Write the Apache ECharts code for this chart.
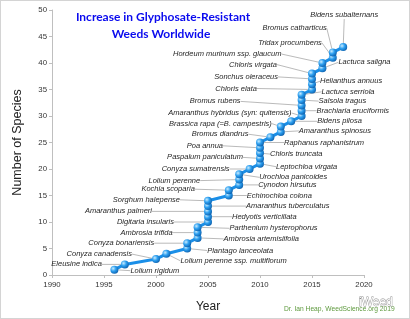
<!DOCTYPE html>
<html>
<head>
<meta charset="utf-8">
<script src="https://cdn.jsdelivr.net/npm/echarts@6/dist/echarts.min.js"></script>
<style>
html,body{margin:0;padding:0;background:#fff;}
#c{width:410px;height:319px;box-sizing:border-box;border:1px solid #d4d4d4;}
</style>
</head>
<body>
<div id="c"></div>
<script>
// ---- data ----
const species = [
  'Lolium rigidum','Eleusine indica','Conyza canadensis','Lolium perenne ssp. multiflorum',
  'Plantago lanceolata','Conyza bonariensis','Ambrosia artemisiifolia','Ambrosia trifida',
  'Parthenium hysterophorus','Digitaria insularis','Hedyotis verticillata','Amaranthus palmeri',
  'Amaranthus tuberculatus','Sorghum halepense','Echinochloa colona','Kochia scoparia',
  'Cynodon hirsutus','Lolium perenne','Urochloa panicoides','Conyza sumatrensis',
  'Leptochloa virgata','Paspalum paniculatum','Chloris truncata','Poa annua',
  'Raphanus raphanistrum','Bromus diandrus','Amaranthus spinosus','Brassica rapa (=B. campestris)',
  'Bidens pilosa','Amaranthus hybridus (syn: quitensis)','Brachiaria eruciformis','Bromus rubens',
  'Salsola tragus','Lactuca serriola','Chloris elata','Helianthus annuus',
  'Sonchus oleraceus','Chloris virgata','Lactuca saligna','Hordeum murinum ssp. glaucum',
  'Tridax procumbens','Bromus catharticus','Bidens subalternans'
];
const years = [1996,1997,2000,2001,2003,2003,2004,2004,2004,2005,2005,2005,2005,2005,
  2007,2007,2008,2008,2008,2009,2010,2010,2010,2010,2010,2011,2012,2012,2013,
  2014,2014,2014,2014,2014,2015,2015,2015,2015,2016,2016,2017,2017,2018];
const counts = [1,2,3,4,5,6,7,8,9,10,11,12,13,14,15,16,17,18,19,20,21,22,23,24,25,26,27,28,29,
  30,31,32,33,34,35,36,37,38,39,40,41,42,43];
const xTicks = [1990,1995,2000,2005,2010,2015,2020];
const yTicks = [0,5,10,15,20,25,30,35,40,45,50];

// ---- label placement (side, dx, dy relative to point, in px) ----
const labelPlace = [
  ['R',16,1],['L',-23,0],['L',-24,-5],['R',14,7],['R',20,2],['L',-33,0],['R',26,1],['L',-25,0],
  ['R',32,1],['L',-34,0],['R',24,0],['L',-56,0],['R',38,0],['L',-28,-1],['R',18,0],['L',-34,-1],
  ['R',19,0],['L',-39,1],['R',20,3],['L',-20,0],['R',16,3],['L',-17,-1],['R',10,1],['L',-37,-2],
  ['R',24,0],['L',-22,-3],['R',18,-1],['L',-9,-3],['R',26,0],['L',-10,-3],['R',15,0],['L',-61,-4],
  ['R',17,1],['R',20,-3],['L',-55,-1],['R',8,-3],['L',-34,-2],['L',-35,-9],['R',16,-6],['L',-41,-9],
  ['L',-11,-15],['L',-6,-24],['L',35,-32]
];

const seriesData = years.map((y, i) => [y, counts[i]]);

const chart = echarts.init(document.getElementById('c'), null, {renderer:'canvas'});
chart.setOption({
  animation:false,
  backgroundColor:'#fff',
  grid:{left:51, right:45, top:9, bottom:42, containLabel:false},
  xAxis:{
    type:'value', min:xTicks[0], max:xTicks[xTicks.length-1], interval:5,
    name:'Year', nameLocation:'middle', nameGap:26,
    nameTextStyle:{fontFamily:'Liberation Sans, Arial, sans-serif', fontSize:12, color:'#222'},
    axisLine:{show:true, lineStyle:{color:'#bfbfbf', width:1}},
    axisTick:{show:true, length:3, lineStyle:{color:'#bfbfbf'}},
    splitLine:{show:false},
    axisLabel:{fontFamily:'Liberation Sans, Arial, sans-serif', fontSize:7.8, color:'#333', margin:6,
      formatter: v => xTicks.includes(v) ? String(v) : ''}
  },
  yAxis:{
    type:'value', min:yTicks[0], max:yTicks[yTicks.length-1], interval:5,
    name:'Number of Species', nameLocation:'middle', nameGap:28, nameRotate:90,
    nameTextStyle:{fontFamily:'Liberation Sans, Arial, sans-serif', fontSize:12.5, color:'#222'},
    axisLine:{show:true, lineStyle:{color:'#bfbfbf', width:1}},
    axisTick:{show:true, length:3, lineStyle:{color:'#bfbfbf'}},
    splitLine:{show:false},
    axisLabel:{fontFamily:'Liberation Sans, Arial, sans-serif', fontSize:7.8, color:'#333', margin:5,
      formatter: v => yTicks.includes(v) ? String(v) : ''}
  },
  series:[{
    type:'line',
    data:seriesData,
    showAllSymbol:true,
    symbol:'circle',
    symbolSize:8,
    lineStyle:{color:'#1a8fe8', width:3},
    itemStyle:{
      color:{type:'radial', x:0.35, y:0.35, r:0.75, colorStops:[
        {offset:0, color:'#c9ecff'},{offset:0.45, color:'#2c9ff0'},{offset:1, color:'#0a5aa6'}]},
      borderWidth:0
    },
    label:{
      show:true,
      formatter: p => species[p.dataIndex],
      fontFamily:'Liberation Sans, Arial, sans-serif',
      fontStyle:'italic',
      fontSize:7.5,
      color:'#262626'
    },
    labelLine:{show:true, smooth:false, length2:0, lineStyle:{color:'#a8a8a8', width:0.8}},
    labelLayout: function(p){
      const L = labelPlace[p.dataIndex];
      const cx = p.rect.x + p.rect.width/2;
      const cy = p.rect.y + p.rect.height/2;
      return {x: cx + L[1], y: cy + L[2], align: L[0]==='L' ? 'right' : 'left',
        verticalAlign:'middle', hideOverlap:false};
    },
    emphasis:{disabled:true},
    z:3
  }],
  graphic:[
    {type:'text', x:162, y:16, style:{text:'Increase in Glyphosate-Resistant', fill:'#0a0aee',
      font:'bold 12px Lato, "Open Sans", sans-serif', align:'center', verticalAlign:'middle'}},
    {type:'text', x:160, y:33, style:{text:'Weeds Worldwide', fill:'#0a0aee',
      font:'bold 12px Lato, "Open Sans", sans-serif', align:'center', verticalAlign:'middle'}},
    {type:'text', x:283, y:308, style:{text:'Dr. Ian Heap, WeedScience.org 2019', fill:'#5e9a3e',
      font:'6.7px "Liberation Sans", sans-serif', align:'left', verticalAlign:'middle'}},
    {type:'text', x:358, y:302, style:{text:'iWeed', fill:'#ffffff', stroke:'#8a8a8a', lineWidth:0.8,
      font:'12px "Liberation Sans", sans-serif', align:'left', verticalAlign:'middle'}}
  ]
});
</script>
</body>
</html>
